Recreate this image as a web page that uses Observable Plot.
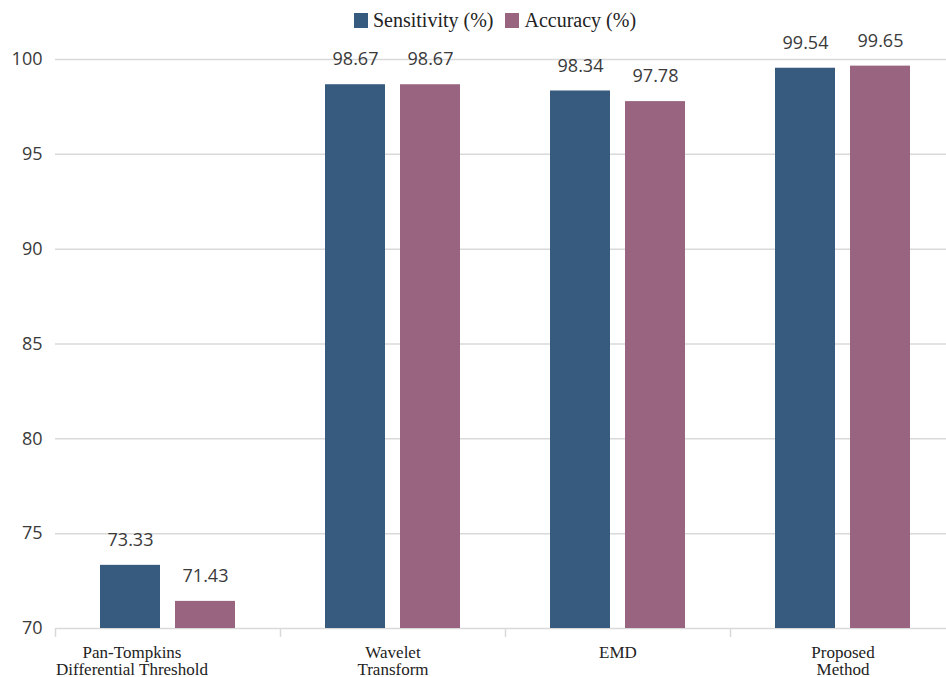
<!DOCTYPE html>
<html>
<head>
<meta charset="utf-8">
<script src="https://cdn.jsdelivr.net/npm/d3@7"></script>
<script src="https://cdn.jsdelivr.net/npm/@observablehq/plot@0.6"></script>
<style>
  html, body { margin: 0; padding: 0; background: #fff; }
  body { width: 946px; height: 677px; overflow: hidden; }
  #legend { display: flex; justify-content: center; align-items: center; height: 40px; padding-left: 44px; box-sizing: border-box;
    font-family: "Liberation Serif", serif; font-size: 20px; color: #222; }
  .item { display: flex; align-items: center; margin: 0 6px; }
  .sw { width: 14px; height: 15px; margin-right: 5px; }
  #chart svg { overflow: visible; }
</style>
</head>
<body>
<div id="legend"></div>
<div id="chart"></div>
<script>
const categories = ["Pan-Tompkins\nDifferential Threshold", "Wavelet\nTransform", "EMD", "Proposed\nMethod"];
const series = ["Sensitivity (%)", "Accuracy (%)"];
const sensitivity = [73.33, 98.67, 98.34, 99.54];
const accuracy = [71.43, 98.67, 97.78, 99.65];
const yTicks = [70, 75, 80, 85, 90, 95, 100];
const colors = ["#375a7f", "#98647f"];

const data = [];
categories.forEach((c, i) => {
  data.push({category: c, series: series[0], value: sensitivity[i]});
  data.push({category: c, series: series[1], value: accuracy[i]});
});
const baseline = yTicks[0];
const sens = data.filter(d => d.series === series[0]);
const acc = data.filter(d => d.series === series[1]);
const fmt = d3.format(".2f");

const legend = document.getElementById("legend");
series.forEach((s, i) => {
  const it = document.createElement("div");
  it.className = "item";
  it.innerHTML = `<span class="sw" style="background:${colors[i]}"></span><span>${s}</span>`;
  legend.appendChild(it);
});

const catStyle = {tickSize: 0, tickPadding: 17, fontSize: 17, fill: "#222", lineHeight: 1,
  fontFamily: "'Liberation Serif', serif", label: null};

const chart = Plot.plot({
  width: 946,
  height: 637,
  marginTop: 19,
  marginBottom: 49,
  marginLeft: 55,
  marginRight: 0,
  style: {fontFamily: "'Open Sans', sans-serif", background: "#fff", overflow: "visible"},
  x: {domain: categories, range: [55, 955], padding: 0},
  y: {domain: [yTicks[0], yTicks[yTicks.length - 1]], ticks: yTicks},
  color: {domain: series, range: colors},
  marks: [
    Plot.gridY(yTicks, {stroke: "#d9d9d9", strokeOpacity: 1, strokeWidth: 1.5}),
    Plot.axisY(yTicks, {tickSize: 0, tickPadding: 13, fontSize: 18, fill: "#3a3a3a", label: null}),
    Plot.axisX({fill: "none", tickSize: 9, stroke: "#d9d9d9", strokeWidth: 1.5, dx: -112.5, label: null}),
    Plot.axisX(categories.slice(0, 1), {...catStyle, dx: -36}),
    Plot.axisX(categories.slice(1), catStyle),
    Plot.barY(sens, {x: "category", y1: baseline, y2: "value", fill: "series", insetLeft: 45, insetRight: 120}),
    Plot.barY(acc, {x: "category", y1: baseline, y2: "value", fill: "series", insetLeft: 120, insetRight: 45}),
    Plot.text(sens, {x: "category", y: "value", text: d => fmt(d.value), dx: -37.5, dy: -25, fontSize: 18, fill: "#3a3a3a"}),
    Plot.text(acc, {x: "category", y: "value", text: d => fmt(d.value), dx: 37.5, dy: -25, fontSize: 18, fill: "#3a3a3a"})
  ]
});
document.getElementById("chart").appendChild(chart);
</script>
</body>
</html>
